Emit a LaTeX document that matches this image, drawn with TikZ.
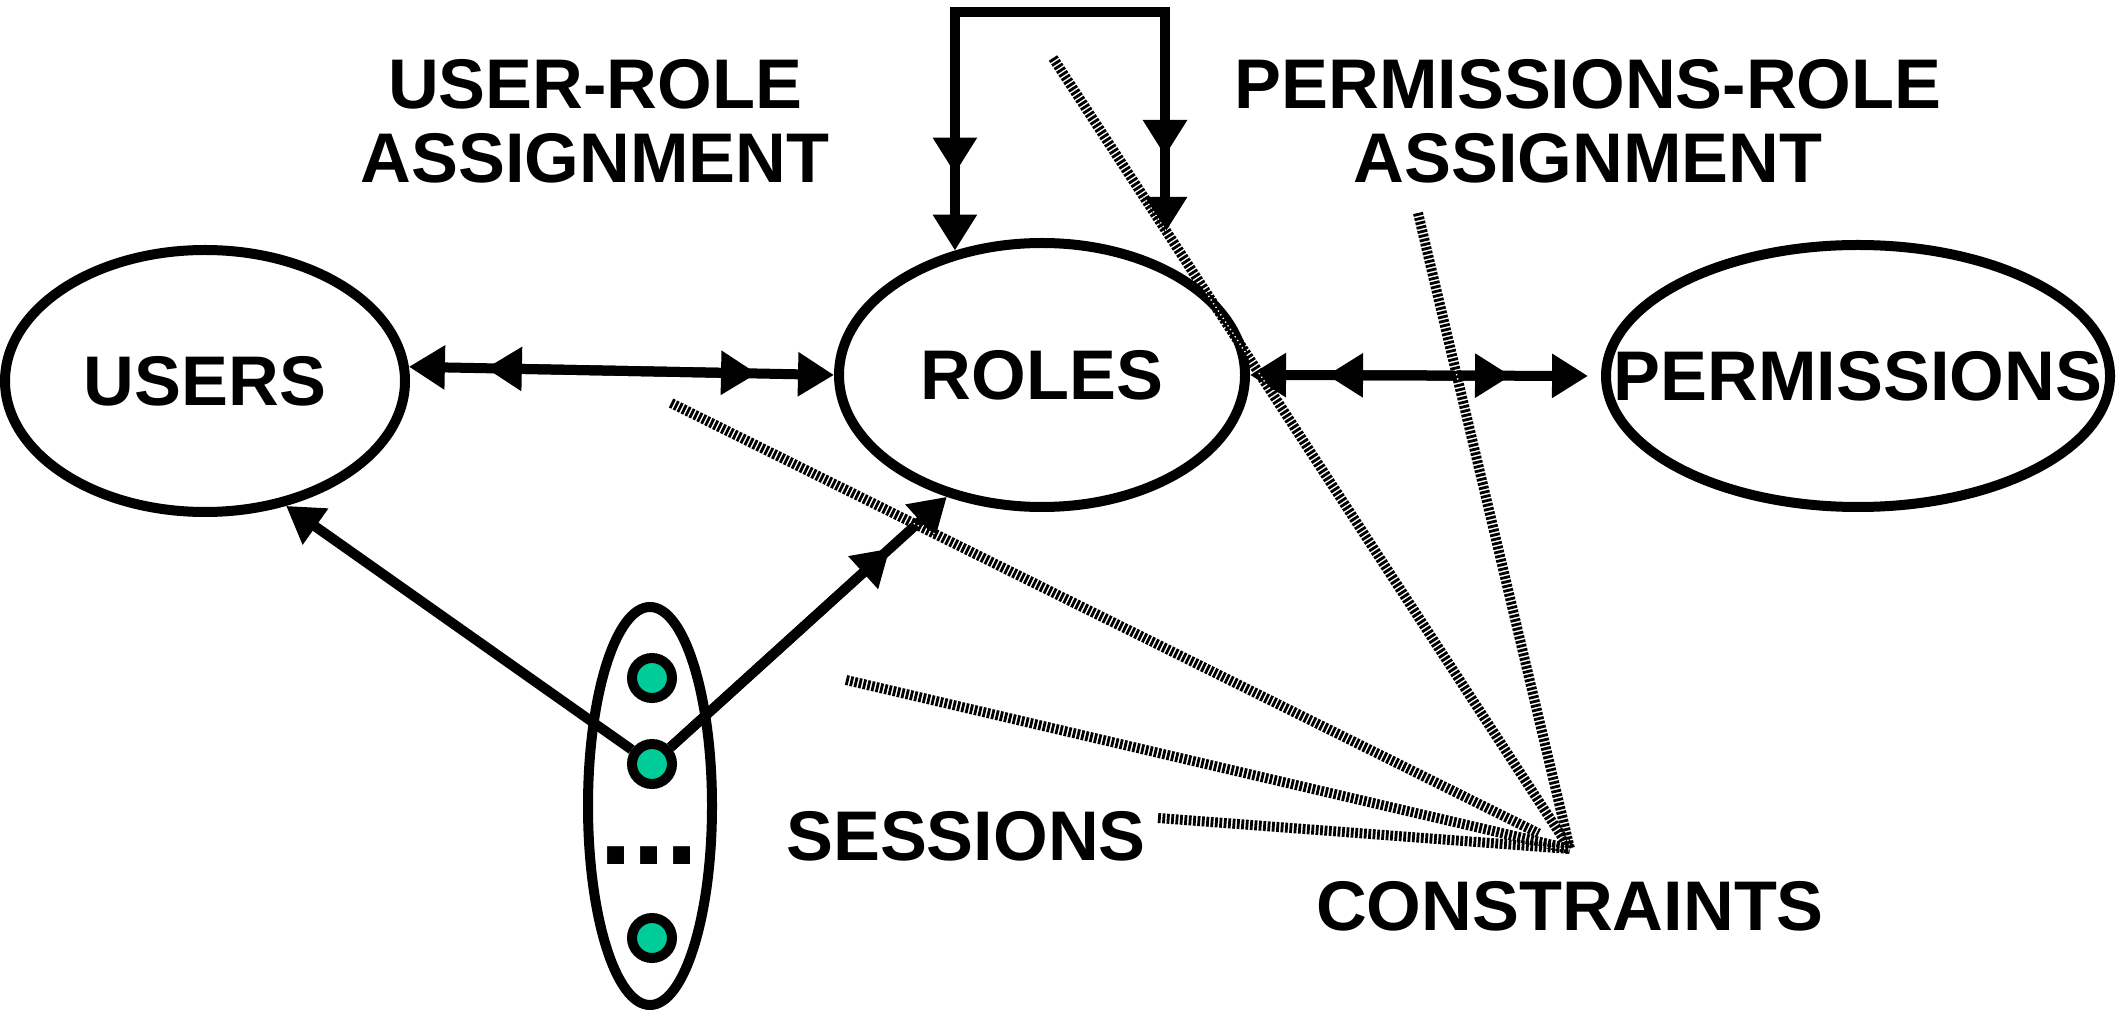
\documentclass[tikz,border=0pt]{standalone}
\usepackage{fontspec}
\setmainfont{Liberation Sans}
\usetikzlibrary{arrows.meta,shapes.geometric}
\definecolor{sessgreen}{RGB}{0,204,153}
\tikzset{
	head/.tip={Triangle[length=0.36cm 0 0,width=0.42cm 0 0]},
	conn/.style={line width=0.1cm},
	tohead/.style={conn,-head},
	two/.style={conn,-head,postaction={draw,-head,shorten >=0.77cm}},
	twoboth/.style={conn,head-head,
		postaction={draw,head-head,shorten <=0.77cm,shorten >=#1}},
	twoboth/.default=0.77cm,
	entity/.style={ellipse,draw=black,line width=0.1cm,inner sep=0pt,
		font=\bfseries\fontsize{20}{21}\selectfont},
	lbl/.style={font=\bfseries\fontsize{20}{21}\selectfont,inner sep=0pt,align=center},
	sess/.style={circle,draw=black,line width=0.1cm,fill=sessgreen,minimum size=0.4cm,inner sep=0pt},
	cstr/.style={line width=0.1cm,dash pattern=on 0.8pt off 0.45pt,
		preaction={draw=white,solid}}
}
\begin{document}
\begin{tikzpicture}
	\useasboundingbox (0,0) rectangle (21.17,-10.14);
	% sets
	\node[entity,minimum width=4cm,minimum height=2.62cm] (users) at (2.05,-3.81) {USERS};
	\node[entity,minimum width=4.06cm,minimum height=2.64cm] (roles) at (10.42,-3.75) {ROLES};
	\node[entity,minimum width=5.04cm,minimum height=2.62cm] (perms) at (18.58,-3.76) {\makebox[0pt]{PERMISSIONS}};
	% sessions
	\node[entity,minimum width=1.24cm,minimum height=3.98cm] (sessset) at (6.50,-8.06) {};
	\node[sess] (s1) at (6.52,-6.78) {};
	\node[sess] (s2) at (6.52,-7.64) {}
		edge[tohead] (users.303)
		edge[two] (roles.232);
	\node[sess] (s3) at (6.52,-9.38) {};
	\node[font=\bfseries\fontsize{34}{34}\selectfont,inner sep=0pt] (sdots) at (6.49,-8.56) {...};
	% labels
	\node[lbl] (ura) at (5.95,-1.21) {USER-ROLE\\ASSIGNMENT};
	\node[lbl] (pra) at (15.88,-1.21) {PERMISSIONS-ROLE\\ASSIGNMENT};
	\node[lbl] (sesl) at (9.66,-8.36) {SESSIONS};
	\node[lbl] (cons) at (15.70,-9.06) {CONSTRAINTS};
	% assignments
	\draw[twoboth] (users.4) -- (roles.west);
	\draw[twoboth=0.9cm,shorten >=0.13cm] (roles.east) -- (perms.west);
	% role hierarchy
	\coordinate (hl) at (roles.125 |- 0,-0.12);
	\coordinate (hr) at (11.65,-0.12);
	\coordinate (hre) at (11.65,-2.33);
	\draw[conn,line cap=rect] (hl) -- (hr);
	\draw[two] (hl) -- (roles.125);
	\draw[two] (hr) -- (hre);
	% constraints
	\coordinate (cf) at (15.70,-8.49);
	\coordinate (c1) at (10.53,-0.58);
	\coordinate (c2) at (14.18,-2.13);
	\coordinate (c3) at (6.71,-4.03);
	\coordinate (c4) at (8.46,-6.80);
	\coordinate (c5) at (11.58,-8.18);
	\draw[cstr] (c1) -- (cf);
	\draw[cstr] (c2) -- (cf);
	\draw[cstr,shorten >=0.35cm] (c3) -- (cf);
	\draw[cstr] (c4) -- (cf);
	\draw[cstr] (c5) -- (cf);
\end{tikzpicture}
\end{document}
